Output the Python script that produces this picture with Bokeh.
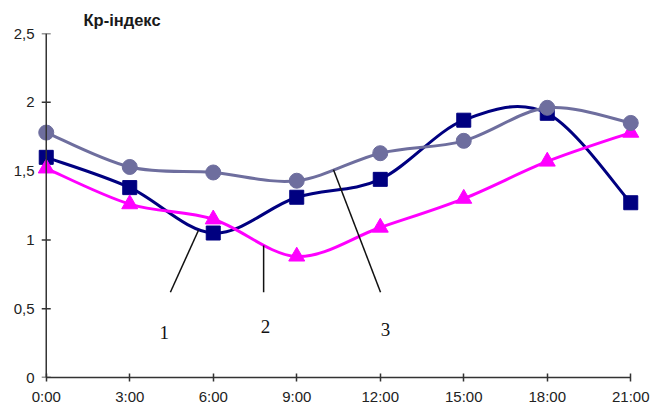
from bokeh.plotting import figure
from bokeh.models import Range1d, FixedTicker, ColumnDataSource, Span
from bokeh.core.properties import value
from bokeh.embed import file_html
from bokeh.resources import INLINE

# Kp-index over the day, three series
hours = [0, 3, 6, 9, 12, 15, 18, 21]
hour_labels = ["0:00", "3:00", "6:00", "9:00", "12:00", "15:00", "18:00", "21:00"]
kp_series1 = [1.60, 1.38, 1.05, 1.31, 1.44, 1.87, 1.92, 1.27]
kp_series2 = [1.78, 1.53, 1.49, 1.43, 1.63, 1.72, 1.96, 1.85]
kp_series3 = [1.52, 1.26, 1.15, 0.88, 1.09, 1.30, 1.57, 1.78]
y_ticks = [0, 0.5, 1, 1.5, 2, 2.5]
y_tick_labels = ["0", "0,5", "1", "1,5", "2", "2,5"]

# curve numbers with their pointer lines (x in hours, y in Kp units)
curve_numbers = ["1", "2", "3"]
number_x = [4.24, 7.88, 12.19]
number_y = [0.33, 0.37, 0.35]
pointer_x0 = [4.46, 7.81, 12.01]
pointer_y0 = [0.62, 0.62, 0.62]
pointer_x1 = [5.47, 7.81, 10.32]
pointer_y1 = [1.07, 0.96, 1.51]


def smooth_segments(xs, ys):
    """Catmull-Rom style cubic Bezier segments through the points."""
    n = len(xs)
    seg = dict(x0=[], y0=[], x1=[], y1=[], cx0=[], cy0=[], cx1=[], cy1=[])
    for i in range(n - 1):
        xp, yp = (xs[i - 1], ys[i - 1]) if i > 0 else (xs[i], ys[i])
        xn, yn = (xs[i + 2], ys[i + 2]) if i + 2 < n else (xs[i + 1], ys[i + 1])
        seg["x0"].append(xs[i]); seg["y0"].append(ys[i])
        seg["x1"].append(xs[i + 1]); seg["y1"].append(ys[i + 1])
        seg["cx0"].append(xs[i] + (xs[i + 1] - xp) / 6)
        seg["cy0"].append(ys[i] + (ys[i + 1] - yp) / 6)
        seg["cx1"].append(xs[i + 1] - (xn - xs[i]) / 6)
        seg["cy1"].append(ys[i + 1] - (yn - ys[i]) / 6)
    return ColumnDataSource(seg)


# a little room either side so the end markers are drawn whole
p = figure(width=650, height=407, output_backend="svg", toolbar_location=None,
           x_range=Range1d(-0.35, 21.35), y_range=Range1d(0, 2.5),
           min_border_left=36, min_border_right=10, min_border_top=33,
           min_border_bottom=29)
p.background_fill_color = "white"
p.border_fill_color = "white"
p.outline_line_color = None
p.xgrid.visible = False
p.ygrid.visible = False

p.title.text = "Кр-індекс"
p.title.text_font = "Liberation Sans"
p.title.text_font_size = "16.5px"
p.title.text_font_style = "bold"
p.title.text_color = "#1a1a1a"
p.title.align = "left"
p.title.offset = 47
p.title.standoff = 9

axis_color = "#333333"
for ax in (p.xaxis[0], p.yaxis[0]):
    ax.axis_line_color = axis_color
    ax.axis_line_width = 1.5
    ax.major_tick_line_color = axis_color
    ax.major_tick_line_width = 1.5
    ax.major_tick_in = 4
    ax.major_tick_out = 4
    ax.minor_tick_line_color = None
    ax.major_label_text_font = "Liberation Sans"
    ax.major_label_text_font_size = "15px"
    ax.major_label_text_color = "#222222"

p.xaxis.ticker = FixedTicker(ticks=hours)
p.xaxis.major_label_overrides = {h: lab for h, lab in zip(hours, hour_labels)}
p.xaxis.bounds = (0, 21)
p.xaxis.major_label_standoff = 6

# the value axis sits at 0:00; its labels stay in the left margin
p.yaxis.ticker = FixedTicker(ticks=y_ticks)
p.yaxis.major_label_overrides = {t: lab for t, lab in zip(y_ticks, y_tick_labels)}
p.yaxis.axis_line_color = None
p.yaxis.major_tick_line_color = None
p.yaxis.major_tick_in = 0
p.yaxis.major_tick_out = 0
p.yaxis.major_label_standoff = 2
p.add_layout(Span(location=0, dimension="height", line_color=axis_color, line_width=1.5))
p.scatter([0] * len(y_ticks), y_ticks, marker="dash", size=9, line_color=axis_color,
          line_width=1.5)

# series 1: navy squares
p.bezier(x0="x0", y0="y0", x1="x1", y1="y1", cx0="cx0", cy0="cy0", cx1="cx1", cy1="cy1",
         source=smooth_segments(hours, kp_series1), line_color="#000080", line_width=3)
p.scatter(hours, kp_series1, marker="square", size=14, fill_color="#000080",
          line_color="#000080")

# series 3: magenta triangles
p.bezier(x0="x0", y0="y0", x1="x1", y1="y1", cx0="cx0", cy0="cy0", cx1="cx1", cy1="cy1",
         source=smooth_segments(hours, kp_series3), line_color="#FF00FF", line_width=3)
p.scatter(hours, kp_series3, marker="triangle", size=16, fill_color="#FF00FF",
          line_color="#FF00FF")

# series 2: grey-violet circles
p.bezier(x0="x0", y0="y0", x1="x1", y1="y1", cx0="cx0", cy0="cy0", cx1="cx1", cy1="cy1",
         source=smooth_segments(hours, kp_series2), line_color="#6E6E9E", line_width=3)
p.scatter(hours, kp_series2, marker="circle", size=15, fill_color="#6E6E9E",
          line_color="#6E6E9E")

# pointer lines and curve numbers
p.segment(x0=pointer_x0, y0=pointer_y0, x1=pointer_x1, y1=pointer_y1,
          line_color="#111111", line_width=1.5)
p.text(x=number_x, y=number_y, text=curve_numbers, text_font=value("Liberation Serif"),
       text_font_size="19px", text_align="center", text_baseline="middle",
       text_color="#111111")

open("out.html", "w").write(file_html(p, INLINE))
